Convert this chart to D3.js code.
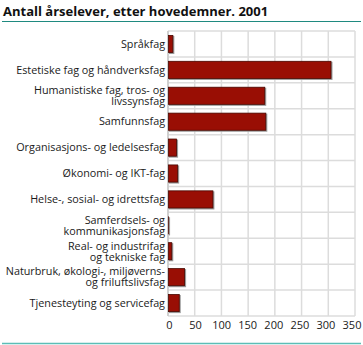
<!DOCTYPE html>
<html>
<head>
<meta charset="utf-8">
<script src="https://cdn.jsdelivr.net/npm/d3@7/dist/d3.min.js"></script>
<style>
  html, body { margin: 0; padding: 0; background: #fff; }
  svg { display: block; font-family: "Open Sans", "Liberation Sans", Arial, sans-serif; }
</style>
</head>
<body>
<svg id="chart" width="363" height="345"></svg>
<script>
// Hovedemner (each entry is a list of label lines)
const categories = [
  ["Språkfag"],
  ["Estetiske fag og håndverksfag"],
  ["Humanistiske fag, tros- og", "livssynsfag"],
  ["Samfunnsfag"],
  ["Organisasjons- og ledelsesfag"],
  ["Økonomi- og IKT-fag"],
  ["Helse-, sosial- og idrettsfag"],
  ["Samferdsels- og", "kommunikasjonsfag"],
  ["Real- og industrifag", "og tekniske fag"],
  ["Naturbruk, økologi-, miljøverns-", "og friluftslivsfag"],
  ["Tjenesteyting og servicefag"]
];
// Antall årselever
const values = [10, 306, 182, 184, 17, 19, 85, 2, 8, 32, 22];
const xTicks = [0, 50, 100, 150, 200, 250, 300, 350];
const title = "Antall årselever, etter hovedemner. 2001";

const svg = d3.select("#chart");
const W = 363, H = 345;
const m = { top: 31, right: 8, bottom: 29, left: 168 };
const pw = W - m.left - m.right, ph = H - m.top - m.bottom;

// Title and rules
svg.append("text")
  .attr("x", 3).attr("y", 16)
  .attr("font-size", 13).attr("font-weight", "bold").attr("fill", "#111")
  .text(title);
svg.append("line")
  .attr("x1", 2).attr("x2", 361).attr("y1", 21.5).attr("y2", 21.5)
  .attr("stroke", "#1f8a80").attr("stroke-width", 1.2);
svg.append("line")
  .attr("x1", 2).attr("x2", 361).attr("y1", 343.5).attr("y2", 343.5)
  .attr("stroke", "#5cbdb6").attr("stroke-width", 1.5);

const x = d3.scaleLinear().domain([0, 350]).range([0, pw]);
// tick labels sit slightly inside the right edge so "350" stays visible
const xLab = d3.scaleLinear().domain([0, 350]).range([1, pw - 3.5]);
const y = d3.scaleBand().domain(d3.range(categories.length)).range([0, ph]).paddingInner(0.3).paddingOuter(0.15);
const rowY = d3.scaleBand().domain(d3.range(categories.length)).range([0, ph]);

const g = svg.append("g").attr("transform", `translate(${m.left},${m.top})`);

// Grid: vertical lines at ticks, horizontal row separators
g.selectAll("line.vg").data(xTicks).join("line")
  .attr("class", "vg")
  .attr("x1", d => x(d)).attr("x2", d => x(d))
  .attr("y1", 0).attr("y2", ph)
  .attr("stroke", "#dcdcdc").attr("stroke-width", 1.5);
g.selectAll("line.hg").data(d3.range(categories.length + 1)).join("line")
  .attr("class", "hg")
  .attr("x1", 0).attr("x2", pw)
  .attr("y1", i => i < categories.length ? rowY(i) : ph)
  .attr("y2", i => i < categories.length ? rowY(i) : ph)
  .attr("stroke", "#dcdcdc").attr("stroke-width", 1.5);
g.append("line")
  .attr("x1", 0).attr("x2", 0).attr("y1", 0).attr("y2", ph)
  .attr("stroke", "#c8c8c8").attr("stroke-width", 1.5);

// Bars
g.selectAll("rect.shadow").data(values).join("rect")
  .attr("class", "shadow")
  .attr("x", 1).attr("y", (d, i) => y(i) + 1)
  .attr("width", d => Math.max(0, x(d)))
  .attr("height", y.bandwidth())
  .attr("fill", "#9a9a9a");
g.selectAll("rect.bar").data(values).join("rect")
  .attr("class", "bar")
  .attr("x", 0.5).attr("y", (d, i) => y(i) + 0.5)
  .attr("width", d => Math.max(0, x(d) - 1))
  .attr("height", y.bandwidth() - 1)
  .attr("fill", "#990e04")
  .attr("stroke", "#4a0800").attr("stroke-width", 0.8);

// Category labels
const lab = g.selectAll("text.cat").data(categories).join("text")
  .attr("class", "cat")
  .attr("x", -3)
  .attr("text-anchor", "end")
  .attr("font-size", 10.8)
  .attr("fill", "#1a1a1a");
lab.each(function(lines, i) {
  const cy = rowY(i) + rowY.bandwidth() / 2;
  const lh = 11;
  const y0 = cy - (lines.length - 1) * lh / 2;
  d3.select(this).selectAll("tspan").data(lines).join("tspan")
    .attr("x", -3)
    .attr("y", (d, k) => y0 + k * lh)
    .attr("dy", "0.35em")
    .text(d => d);
});

// X axis labels
const xAxis = g.append("g").attr("transform", `translate(0,${ph})`)
  .call(d3.axisBottom(xLab).tickValues(xTicks).tickSize(0).tickPadding(5).tickFormat(d3.format("d")));
xAxis.select(".domain").remove();
xAxis.selectAll("text")
  .attr("font-size", 11).attr("fill", "#1a1a1a")
  .attr("font-family", "Open Sans, Liberation Sans, Arial, sans-serif");
</script>
</body>
</html>
